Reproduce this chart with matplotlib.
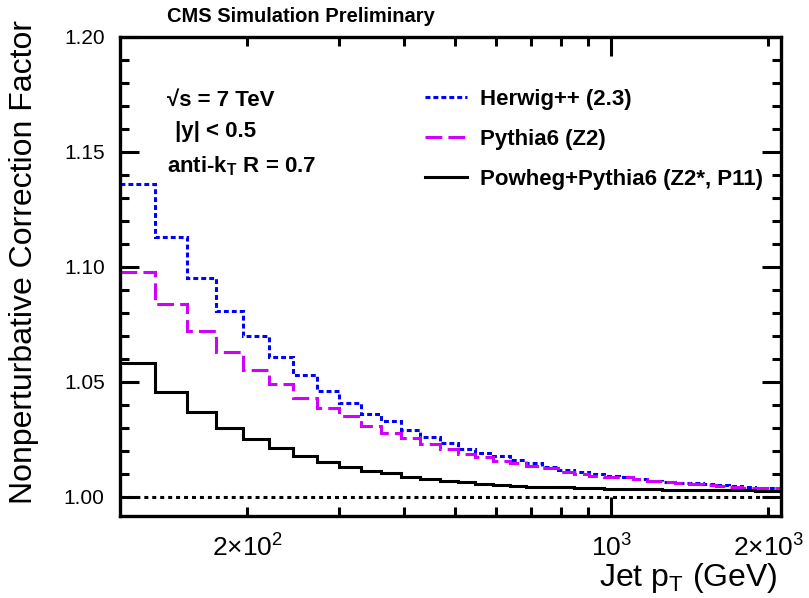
import matplotlib
matplotlib.use("Agg")
import matplotlib.pyplot as pl
from matplotlib.lines import Line2D
from matplotlib.ticker import FixedLocator, FuncFormatter, MultipleLocator

pl.rcParams["font.family"] = ["Liberation Sans", "DejaVu Sans"]
pl.rcParams["mathtext.fontset"] = "custom"
pl.rcParams["mathtext.rm"] = "Liberation Sans"
pl.rcParams["mathtext.bf"] = "Liberation Sans:bold"

# Jet pT bin edges (GeV).
edges = [114, 133, 153, 174, 196, 220, 245, 272, 300, 330, 362, 395, 430,
         468, 507, 548, 592, 638, 686, 737, 790, 846, 905, 967, 1032, 1101,
         1172, 1248, 1327, 1410, 1497, 1588, 1684, 1784, 1890, 2000, 2116]

herwig = [1.136, 1.113, 1.095, 1.081, 1.070, 1.061, 1.053, 1.046, 1.041,
          1.036, 1.033, 1.029, 1.026, 1.0236, 1.021, 1.019, 1.0178, 1.016,
          1.0146, 1.013, 1.0117, 1.0107, 1.0099, 1.0090, 1.0088, 1.0078,
          1.0071, 1.0067, 1.0062, 1.0059, 1.0056, 1.0050, 1.0048, 1.0042,
          1.0038, 1.0038]

pythia = [1.098, 1.084, 1.072, 1.063, 1.055, 1.049, 1.043, 1.0388, 1.035,
          1.031, 1.028, 1.0258, 1.023, 1.0207, 1.0187, 1.0175, 1.0157,
          1.0146, 1.0136, 1.0125, 1.011, 1.010, 1.009, 1.0088, 1.0086,
          1.0077, 1.0068, 1.0065, 1.0062, 1.0056, 1.0050, 1.0048, 1.0045,
          1.0040, 1.0038, 1.0038]

powheg = [1.0584, 1.0458, 1.0368, 1.0299, 1.0251, 1.0212, 1.0178, 1.0153,
          1.0132, 1.0114, 1.0103, 1.0088, 1.0078, 1.0071, 1.0064, 1.0057,
          1.0052, 1.0048, 1.0045, 1.0043, 1.0041, 1.0039, 1.0037, 1.0036,
          1.0035, 1.0034, 1.0033, 1.0032, 1.0031, 1.0030, 1.0030, 1.0029,
          1.0028, 1.0028, 1.0027, 1.0027]

labels = ["Herwig++ (2.3)", "Pythia6 (Z2)", "Powheg+Pythia6 (Z2*, P11)"]

lw = 2.2
blue = "#0000ff"
magenta = "#d000ff"
dot_style = (0, (1.6, 1.0))
dash_style = (0, (5.5, 2.0))

fig = pl.figure(figsize=(8.09, 5.98), dpi=100)
ax = fig.add_axes([120 / 809, 1 - 516 / 598, 661 / 809, 479 / 598])

ax.stairs(herwig, edges, baseline=None, color=blue, lw=lw, ls=dot_style)
ax.stairs(pythia, edges, baseline=None, color=magenta, lw=lw, ls=dash_style)
ax.stairs(powheg, edges, baseline=None, color="black", lw=lw)
ax.axhline(1.0, color="black", lw=lw, ls=(0, (1.3, 1.3)))

ax.set_xscale("log")
ax.set_xlim(edges[0], edges[-1])
ax.set_ylim(0.9917, 1.20)

ax.xaxis.set_major_locator(FixedLocator([1000]))
ax.xaxis.set_minor_locator(FixedLocator([200, 300, 400, 500, 600, 700, 800,
                                         900, 2000]))
ax.xaxis.set_major_formatter(FuncFormatter(lambda v, p: r"$\mathregular{10^{3}}$"))
ax.xaxis.set_minor_formatter(FuncFormatter(
    lambda v, p: {200: r"$\mathregular{2{\times}10^{2}}$",
                  2000: r"$\mathregular{2{\times}10^{3}}$"}.get(int(round(v)), "")))
ax.yaxis.set_major_locator(MultipleLocator(0.05))
ax.yaxis.set_minor_locator(MultipleLocator(0.01))
ax.yaxis.set_major_formatter(FuncFormatter(lambda v, p: "%.2f" % v))

ax.tick_params(which="both", direction="in", top=True, right=True, width=2.2)
ax.tick_params(which="major", length=13.5)
ax.tick_params(which="minor", length=6.5)
ax.tick_params(axis="y", which="both", pad=11, labelsize=15)
ax.tick_params(axis="x", which="both", pad=13, labelsize=19)
for s in ax.spines.values():
    s.set_linewidth(2.4)

fig.text(24 / 809, 1 - 20 / 598, "Nonperturbative Correction Factor",
         rotation=90, ha="center", va="top", fontsize=23)
fig.text(778 / 809, 1 - 578 / 598, r"Jet p$_\mathregular{T}$ (GeV)",
         ha="right", va="center", fontsize=23)
fig.text(167 / 809, 1 - 17 / 598, "CMS Simulation Preliminary",
         ha="left", va="center", fontsize=14.5, fontweight="bold")

ax.text(0.071, 0.868, "\u221As = 7 TeV", transform=ax.transAxes,
        ha="left", va="center", fontsize=16, fontweight="bold")
ax.text(0.083, 0.803, "|y| < 0.5", transform=ax.transAxes,
        ha="left", va="center", fontsize=16, fontweight="bold")
ax.text(0.071, 0.73, r"anti-k$_\mathbf{T}$ R = 0.7", transform=ax.transAxes,
        ha="left", va="center", fontsize=16, fontweight="bold")

handles = [Line2D([], [], color=blue, lw=lw, ls=dot_style),
           Line2D([], [], color=magenta, lw=lw, ls=dash_style),
           Line2D([], [], color="black", lw=lw)]
leg = ax.legend(handles, labels, loc="upper left",
                bbox_to_anchor=(0.445, 0.915), frameon=False,
                prop={"size": 16, "weight": "bold"}, handlelength=1.9,
                handletextpad=0.55, labelspacing=0.85, borderpad=0)

fig.savefig("out.png", dpi=100)
